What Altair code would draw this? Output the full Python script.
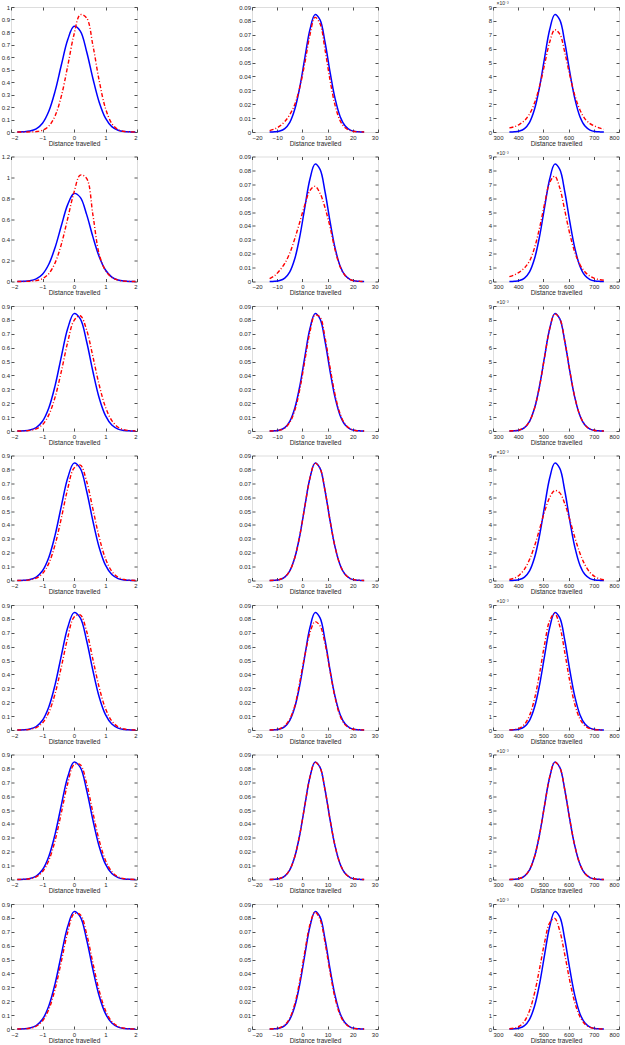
import altair as alt
import pandas as pd

# ---------------- data ----------------
X1 = [-1.8, -1.6, -1.4, -1.2, -1.0, -0.8, -0.6, -0.4, -0.2, 0.0, 0.2, 0.4, 0.6, 0.8, 1.0, 1.2, 1.4, 1.6, 1.8, 1.95]
X2 = [-13, -11, -9, -7, -5, -3, -1, 1, 3, 5, 7, 9, 11, 13, 15, 17, 19, 21, 23, 24.5]
X3 = [365, 385, 405, 425, 445, 465, 485, 505, 525, 545, 565, 585, 605, 625, 645, 665, 685, 705, 725, 740]

BLUE1 = [0.0004, 0.0018, 0.0073, 0.0247, 0.0701, 0.1656, 0.3267, 0.5376, 0.7378, 0.8452, 0.8075, 0.6443, 0.4284, 0.2380, 0.1102, 0.0426, 0.0138, 0.0037, 0.0008, 0.0002]
BLUE2 = [0.00004, 0.00018, 0.00073, 0.00247, 0.00701, 0.01656, 0.03267, 0.05376, 0.07378, 0.08452, 0.08075, 0.06443, 0.04284, 0.02380, 0.01102, 0.00426, 0.00138, 0.00037, 0.00008, 0.00002]
BLUE3 = [0.004, 0.018, 0.073, 0.247, 0.701, 1.656, 3.267, 5.376, 7.378, 8.452, 8.075, 6.443, 4.284, 2.380, 1.102, 0.426, 0.138, 0.037, 0.008, 0.002]

RED1 = [
    [0.0000, 0.0001, 0.0007, 0.0033, 0.014, 0.047, 0.129, 0.289, 0.527, 0.780, 0.939, 0.913, 0.693, 0.410, 0.189, 0.068, 0.019, 0.0041, 0.0007, 0.0002],
    [0.0001, 0.0004, 0.002, 0.008, 0.027, 0.075, 0.179, 0.359, 0.605, 0.856, 1.022, 0.990, 0.640, 0.262, 0.105, 0.040, 0.013, 0.0035, 0.0008, 0.0002],
    [0.0002, 0.0010, 0.0043, 0.0155, 0.046, 0.116, 0.244, 0.431, 0.639, 0.795, 0.830, 0.728, 0.536, 0.331, 0.172, 0.075, 0.027, 0.0084, 0.0022, 0.0007],
    [0.0002, 0.0011, 0.0047, 0.0167, 0.0495, 0.1235, 0.258, 0.451, 0.660, 0.809, 0.831, 0.715, 0.515, 0.311, 0.157, 0.066, 0.0235, 0.0070, 0.0017, 0.0005],
    [0.0002, 0.0012, 0.0049, 0.0172, 0.0505, 0.126, 0.262, 0.456, 0.664, 0.812, 0.829, 0.711, 0.509, 0.306, 0.154, 0.064, 0.0228, 0.0068, 0.0016, 0.0005],
    [0.0003, 0.0013, 0.0054, 0.019, 0.056, 0.137, 0.281, 0.482, 0.691, 0.826, 0.826, 0.691, 0.482, 0.281, 0.137, 0.056, 0.019, 0.0054, 0.0013, 0.0004],
    [0.0003, 0.0014, 0.0057, 0.0198, 0.058, 0.141, 0.287, 0.489, 0.697, 0.829, 0.823, 0.685, 0.475, 0.276, 0.133, 0.054, 0.0183, 0.0052, 0.0012, 0.0003],
]
RED2 = [
    [0.0010, 0.0022, 0.0042, 0.0075, 0.0125, 0.0200, 0.0325, 0.0500, 0.0700, 0.0825, 0.0780, 0.0590, 0.0370, 0.0190, 0.0080, 0.0030, 0.0010, 0.0003, 0.0001, 0.0000],
    [0.0020, 0.0042, 0.0080, 0.0130, 0.0205, 0.0310, 0.0430, 0.0555, 0.0655, 0.0685, 0.0635, 0.0530, 0.0390, 0.0225, 0.0105, 0.0042, 0.0014, 0.0004, 0.0001, 0.0000],
    [0.00003, 0.00015, 0.0006, 0.0021, 0.0062, 0.0150, 0.0303, 0.0510, 0.0715, 0.0835, 0.0820, 0.0670, 0.0455, 0.0258, 0.0122, 0.0048, 0.0016, 0.0004, 0.0001, 0.0000],
    [0.00004, 0.00018, 0.00074, 0.0025, 0.0070, 0.0166, 0.0326, 0.0537, 0.0737, 0.0845, 0.0808, 0.0645, 0.0429, 0.0238, 0.0110, 0.0043, 0.0014, 0.0004, 0.0001, 0.0000],
    [0.00005, 0.0002, 0.0009, 0.0030, 0.0080, 0.0175, 0.0350, 0.0540, 0.0700, 0.0780, 0.0750, 0.0620, 0.0420, 0.0230, 0.0100, 0.0037, 0.0011, 0.0003, 0.0001, 0.0000],
    [0.00004, 0.00019, 0.00075, 0.0025, 0.0071, 0.0167, 0.0328, 0.0538, 0.0737, 0.0844, 0.0806, 0.0643, 0.0428, 0.0238, 0.0111, 0.0043, 0.0014, 0.0004, 0.0001, 0.0000],
    [0.00005, 0.0002, 0.0009, 0.0029, 0.0079, 0.0183, 0.0350, 0.0562, 0.0752, 0.0842, 0.0790, 0.0620, 0.0405, 0.0220, 0.0100, 0.0038, 0.0012, 0.0003, 0.0001, 0.0000],
]
RED3 = [
    [0.30, 0.38, 0.55, 0.82, 1.30, 2.10, 3.30, 4.89, 6.48, 7.36, 7.05, 5.72, 4.06, 2.62, 1.59, 0.95, 0.60, 0.42, 0.28, 0.20],
    [0.35, 0.48, 0.68, 0.98, 1.48, 2.44, 3.88, 5.62, 7.12, 7.58, 6.74, 5.10, 3.41, 2.09, 1.22, 0.69, 0.38, 0.21, 0.13, 0.10],
    [0.004, 0.019, 0.075, 0.25, 0.70, 1.65, 3.25, 5.35, 7.35, 8.43, 8.08, 6.46, 4.31, 2.40, 1.12, 0.43, 0.14, 0.038, 0.008, 0.002],
    [0.069, 0.176, 0.40, 0.819, 1.507, 2.494, 3.712, 4.969, 5.983, 6.478, 6.309, 5.525, 4.352, 3.084, 1.963, 1.124, 0.580, 0.269, 0.112, 0.054],
    [0.008, 0.036, 0.131, 0.405, 1.044, 2.258, 4.089, 6.202, 7.878, 8.383, 7.471, 5.577, 3.486, 1.825, 0.800, 0.294, 0.090, 0.023, 0.005, 0.0015],
    [0.004, 0.018, 0.074, 0.249, 0.705, 1.66, 3.27, 5.37, 7.37, 8.44, 8.07, 6.44, 4.29, 2.39, 1.11, 0.43, 0.14, 0.037, 0.008, 0.002],
    [0.018, 0.066, 0.209, 0.568, 1.316, 2.597, 4.368, 6.261, 7.648, 7.960, 7.060, 5.336, 3.437, 1.886, 0.882, 0.351, 0.119, 0.034, 0.009, 0.003],
]

X_GRIDS = [X1, X2, X3]
BLUES = [BLUE1, BLUE2, BLUE3]
REDS = [RED1, RED2, RED3]

X_DOMAINS = [[-2, 2], [-20, 30], [300, 800]]
X_TICKS = [[-2, -1, 0, 1, 2], [-20, -10, 0, 10, 20, 30], [300, 400, 500, 600, 700, 800]]

Y_MAX_COL1 = [1.0, 1.2, 0.9, 0.9, 0.9, 0.9, 0.9]
Y_TICKS_COL1 = [
    [0, 0.1, 0.2, 0.3, 0.4, 0.5, 0.6, 0.7, 0.8, 0.9, 1.0],
    [0, 0.2, 0.4, 0.6, 0.8, 1.0, 1.2],
] + [[0, 0.1, 0.2, 0.3, 0.4, 0.5, 0.6, 0.7, 0.8, 0.9]] * 5
Y_TICKS_COL2 = [0, 0.01, 0.02, 0.03, 0.04, 0.05, 0.06, 0.07, 0.08, 0.09]
Y_TICKS_COL3 = [0, 1, 2, 3, 4, 5, 6, 7, 8, 9]

X_TITLE = "Distance travelled"
EXP_LABEL = "×10⁻³"

# ---------------- styling ----------------
FONT = "Liberation Sans"
AX_COLOR = "#262626"
W = 126
H = 125
TICK = 3


def panel(col, row):
    xs = X_GRIDS[col]
    df_b = pd.DataFrame({"x": xs, "y": BLUES[col]})
    df_r = pd.DataFrame({"x": xs, "y": REDS[col][row]})
    if col == 0:
        ymax, yticks = Y_MAX_COL1[row], Y_TICKS_COL1[row]
    elif col == 1:
        ymax, yticks = 0.09, Y_TICKS_COL2
    else:
        ymax, yticks = 9, Y_TICKS_COL3

    xs_scale = alt.Scale(domain=X_DOMAINS[col], nice=False, zero=False)
    ys_scale = alt.Scale(domain=[0, ymax], nice=False)

    common = dict(domain=False, grid=False, tickSize=TICK, offset=-TICK,
                  tickColor=AX_COLOR, tickWidth=0.8, labelColor=AX_COLOR,
                  labelFont=FONT, labelFontSize=6, titleFont=FONT,
                  titleFontSize=6.5, titleFontWeight="normal", titleColor=AX_COLOR)

    x_axis = alt.Axis(orient="bottom", values=X_TICKS[col], format="~r",
                      title=X_TITLE, labelPadding=2, titlePadding=0, **common)
    if col == 2:
        y_axis = alt.Axis(orient="left", values=yticks, format="~r", labelPadding=1.5,
                          title=EXP_LABEL, titleAngle=0, titleAlign="left",
                          titleBaseline="bottom", titleX=0, titleY=-1.5,
                          **{**common, "titleFontSize": 5})
    else:
        y_axis = alt.Axis(orient="left", values=yticks, format="~r", labelPadding=1.5,
                          title=None, **common)

    blue = alt.Chart(df_b).mark_line(
        color="#0000ff", strokeWidth=1.5, interpolate="catmull-rom"
    ).encode(
        x=alt.X("x:Q", scale=xs_scale, axis=x_axis),
        y=alt.Y("y:Q", scale=ys_scale, axis=y_axis),
    )
    red = alt.Chart(df_r).mark_line(
        color="#ff0000", strokeWidth=1.4, strokeDash=[4, 2, 1, 2], interpolate="catmull-rom"
    ).encode(
        x=alt.X("x:Q", scale=xs_scale, axis=None),
        y=alt.Y("y:Q", scale=ys_scale, axis=None),
    )
    frame = alt.Chart(df_b).mark_line(opacity=0).encode(
        x=alt.X("x:Q", scale=xs_scale,
                axis=alt.Axis(orient="top", values=X_TICKS[col], labels=False, title=None, **common)),
        y=alt.Y("y:Q", scale=ys_scale,
                axis=alt.Axis(orient="right", values=yticks, labels=False, title=None, **common)),
    )
    return alt.layer(blue, red, frame).resolve_axis(x="independent", y="independent").properties(
        width=W, height=H
    )


panels = [panel(c, r) for r in range(7) for c in range(3)]

chart = alt.concat(
    *panels, columns=3, spacing={"row": 24.5, "column": 115}, bounds="flush"
).properties(
    padding={"left": 0, "top": 0, "right": 0, "bottom": 0}
).configure_view(
    stroke=AX_COLOR, strokeWidth=0.8
).configure(
    background="white"
)

chart.save("out.html", embed_options={"renderer": "svg", "actions": False})
